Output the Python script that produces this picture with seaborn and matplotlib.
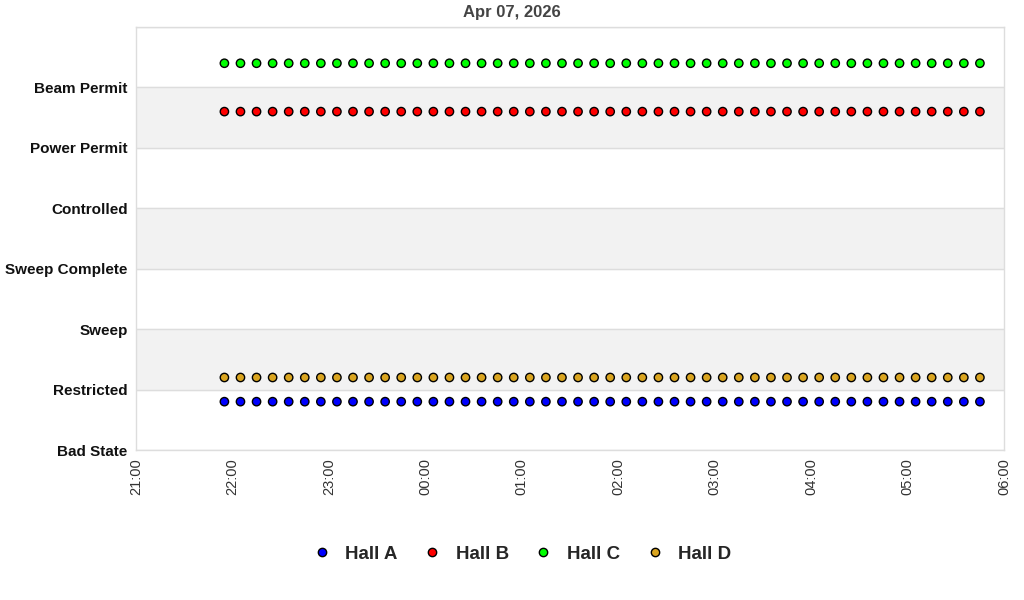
import numpy as np
import pandas as pd
import matplotlib
matplotlib.use("Agg")
import matplotlib.pyplot as plt
import matplotlib.dates as mdates
import seaborn as sns

# state axis labels, bottom to top
states = ["Bad State", "Restricted", "Sweep", "Sweep Complete",
          "Controlled", "Power Permit", "Beam Permit"]

halls = ["Hall A", "Hall B", "Hall C", "Hall D"]
colors = ["#0000FF", "#FF0000", "#00FF00", "#DAA520"]
# small vertical offset per hall so the series do not sit on top of each other
offsets = [-0.2, -0.4, 0.4, 0.2]

# 10-minute samples
times = pd.date_range("2026-04-07 21:55", "2026-04-08 05:45", freq="10min")
n = len(times)
hall_a_state = ["Restricted"] * n
hall_b_state = ["Beam Permit"] * n
hall_c_state = ["Beam Permit"] * n
hall_d_state = ["Restricted"] * n

frames = []
for hall, st, off in zip(halls, [hall_a_state, hall_b_state, hall_c_state, hall_d_state], offsets):
    frames.append(pd.DataFrame({
        "time": times,
        "level": [states.index(s) + off for s in st],
        "hall": hall,
    }))
df = pd.concat(frames, ignore_index=True)

sns.set_style("white")
plt.rcParams["font.family"] = ["Liberation Sans", "DejaVu Sans"]

fig = plt.figure(figsize=(10.24, 6), dpi=100)
ax = fig.add_axes([0.1328, 0.25, 0.8477, 0.705])

# alternating background bands
for lo in [1, 3, 5]:
    ax.axhspan(lo, lo + 1, color="#F2F2F2", zorder=0)
for y in range(0, 8):
    ax.axhline(y, color="#DDDDDD", lw=1, zorder=1)

sns.scatterplot(data=df, x="time", y="level", hue="hall", hue_order=halls,
                palette=colors, s=36, edgecolor="black", linewidth=1,
                ax=ax, zorder=3, legend=True)

ax.set_ylim(0, 7)
ax.set_yticks(range(len(states)))
ax.set_yticklabels(states, fontsize=11, fontweight="bold", color="#111111")
ax.set_xlim(pd.Timestamp("2026-04-07 21:00"), pd.Timestamp("2026-04-08 06:00"))
ax.xaxis.set_major_locator(mdates.HourLocator())
ax.xaxis.set_major_formatter(mdates.DateFormatter("%H:%M"))
plt.setp(ax.get_xticklabels(), rotation=90, fontsize=10.5, color="#333333")
ax.tick_params(axis="both", length=0, pad=6)
ax.set_xlabel("")
ax.set_ylabel("")
for sp in ax.spines.values():
    sp.set_color("#DDDDDD")
    sp.set_linewidth(1)

fig.text(0.5, 0.979, "Apr 07, 2026", ha="center", va="center",
         fontsize=12, fontweight="bold", color="#444444")

handles, labels = ax.get_legend_handles_labels()
ax.legend_.remove()
fig.legend(handles, labels, loc="center", bbox_to_anchor=(0.505, 0.076), ncol=4,
           frameon=False, prop={"weight": "bold", "size": 13.5},
           handletextpad=0.25, columnspacing=0.85, markerscale=1.0)

fig.savefig("out.png", dpi=100)
